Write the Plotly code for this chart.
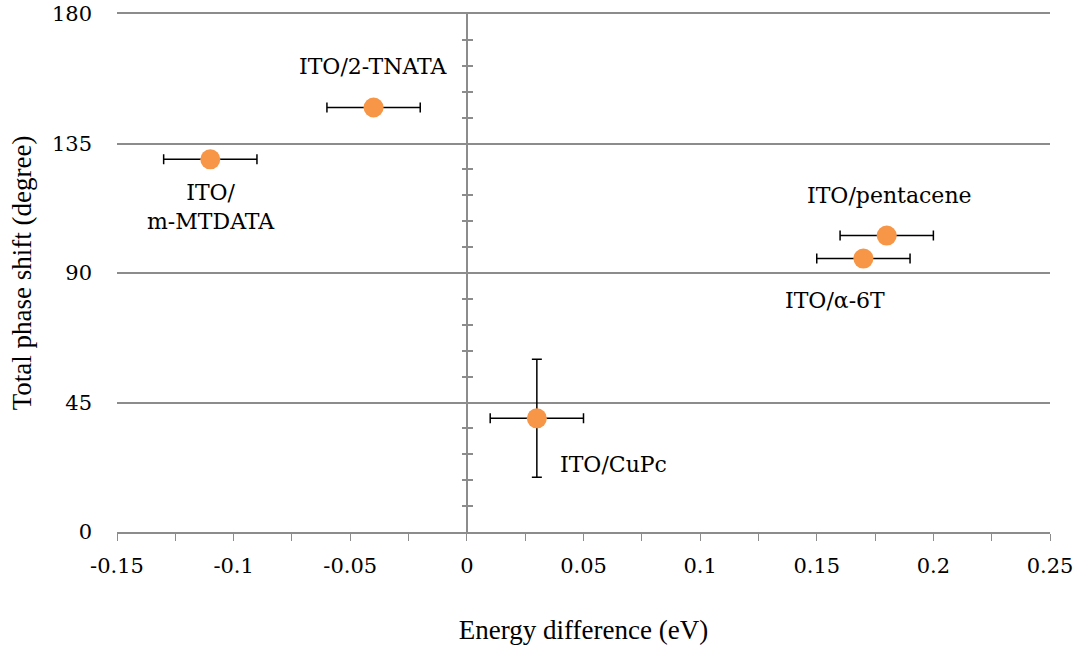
import plotly.graph_objects as go

names = ["ITO/2-TNATA", "ITO/<br>m-MTDATA", "ITO/pentacene", "ITO/\u03b1-6T", "ITO/CuPc"]
energy = [-0.04, -0.11, 0.18, 0.17, 0.03]
phase = [147.5, 129.5, 103.0, 95.0, 39.5]
energy_err = [0.02, 0.02, 0.02, 0.02, 0.02]
phase_err = [0, 0, 0, 0, 20.5]

x_tickvals = [-0.15, -0.1, -0.05, 0, 0.05, 0.1, 0.15, 0.2, 0.25]
x_ticktext = ["-0.15", "-0.1", "-0.05", "0", "0.05", "0.1", "0.15", "0.2", "0.25"]
y_tickvals = [0, 45, 90, 135, 180]

# label offsets in pixels (xshift, yshift)
label_shift = [(0, 41), (1, -48), (3, 40), (-28, -42), (77, -46)]

FONT = "DejaVu Serif"
TITLE_FONT = "Liberation Serif"
GRID = "#8c8c8c"

fig = go.Figure()
fig.add_trace(go.Scatter(
    x=energy, y=phase, mode="markers",
    marker=dict(color="#F79646", size=20),
    error_x=dict(type="data", array=energy_err, color="black", thickness=1.5, width=5),
    error_y=dict(type="data", array=phase_err, color="black", thickness=1.5, width=5),
    showlegend=False, hoverinfo="skip",
))
# helper traces to attach the crossing minor tick axes at x = 0
for ya in ["y2", "y3"]:
    fig.add_trace(go.Scatter(x=[energy[0]], y=[phase[0]], yaxis=ya, mode="markers",
                             marker=dict(opacity=0), showlegend=False, hoverinfo="skip"))

for name, xv, yv, (dx, dy) in zip(names, energy, phase, label_shift):
    fig.add_annotation(x=xv, y=yv, text=name, showarrow=False, xshift=dx, yshift=dy,
                       font=dict(family=FONT, size=22, color="black"), align="center")

x0, x1 = -0.15, 0.25
pos0 = (0 - x0) / (x1 - x0)
minor_vals = [v for v in range(9, 180, 9) if v % 45 != 0]

fig.update_layout(
    width=1079, height=652,
    margin=dict(l=117, r=29, t=14, b=120),
    plot_bgcolor="white", paper_bgcolor="white",
    font=dict(family=FONT, size=21, color="black"),
    xaxis=dict(
        range=[x0, x1], tickvals=x_tickvals, ticktext=x_ticktext, showgrid=False,
        zeroline=True, zerolinecolor=GRID, zerolinewidth=1.5,
        showline=True, linecolor=GRID, linewidth=1.5, mirror=True,
        ticks="outside", ticklen=7, tickcolor=GRID, tickwidth=1,
        minor=dict(dtick=0.025, tick0=0, ticks="outside", ticklen=7, tickcolor=GRID, tickwidth=1),
        ticklabelstandoff=7, automargin=False,
        title=dict(text="Energy difference (eV)", standoff=43,
                   font=dict(family=TITLE_FONT, size=27)),
        tickfont=dict(size=21), fixedrange=True,
    ),
    yaxis=dict(
        range=[0, 180], tickvals=y_tickvals, showgrid=True, gridcolor=GRID, gridwidth=1.5,
        zeroline=False, showline=False, ticks="", ticklabelstandoff=24, automargin=False,
        title=dict(text="Total phase shift (degree)", standoff=12,
                   font=dict(family=TITLE_FONT, size=27)),
        tickfont=dict(size=21), fixedrange=True,
    ),
    yaxis2=dict(
        overlaying="y", anchor="free", position=pos0, side="left", range=[0, 180],
        tickvals=minor_vals, ticks="outside", ticklen=5, tickcolor=GRID, tickwidth=1.5,
        showticklabels=False, showgrid=False, zeroline=False, showline=False,
        automargin=False, fixedrange=True,
    ),
    yaxis3=dict(
        overlaying="y", anchor="free", position=pos0, side="right", range=[0, 180],
        tickvals=minor_vals, ticks="outside", ticklen=5, tickcolor=GRID, tickwidth=1.5,
        showticklabels=False, showgrid=False, zeroline=False, showline=False,
        automargin=False, fixedrange=True,
    ),
)

fig.write_html("out.html")
